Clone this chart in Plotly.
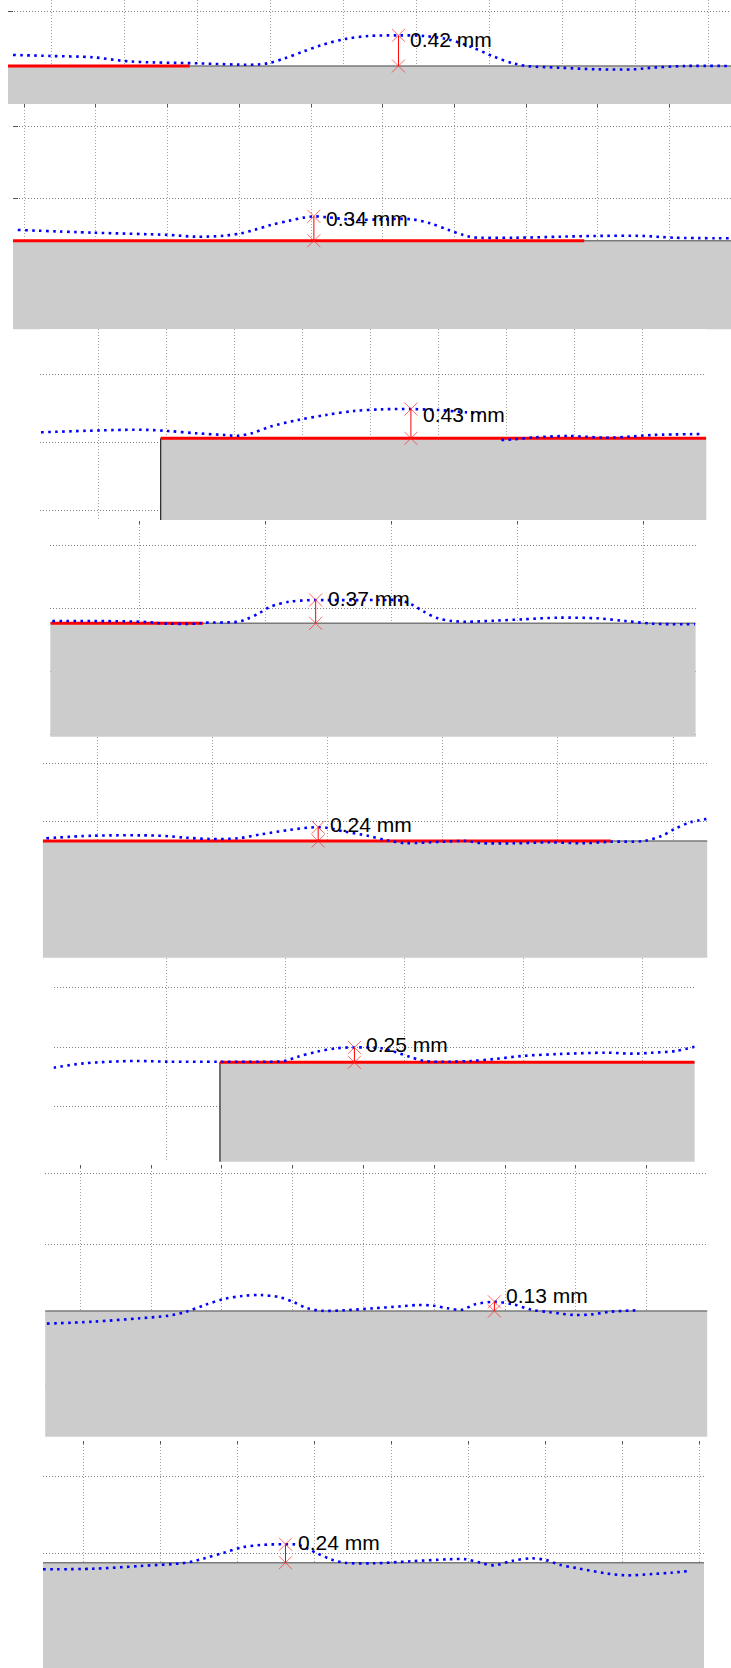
import plotly.graph_objects as go

W, H = 731, 1668

# Measured step heights (mm) and their positions along each scan (mm)
step_heights = [0.42, 0.34, 0.43, 0.37, 0.24, 0.25, 0.13, 0.24]
step_x = [4.76, 4.04, 4.59, 2.79, 3.84, 3.16, 5.85, 2.63]

# Surface profiles: position (mm) and height above the substrate (mm)
p1_x = [-0.52, 0.00, 0.58, 0.96, 1.22, 1.99, 2.75, 2.97, 3.20, 3.45, 3.71, 4.03, 4.35, 4.76, 5.11, 5.43,
        5.75, 6.07, 6.33, 6.52, 6.96, 7.48, 7.99, 8.24, 8.69, 9.32]
p1_h = [0.151, 0.137, 0.119, 0.073, 0.055, 0.037, 0.018, 0.037, 0.105, 0.196, 0.288, 0.370, 0.411, 0.42,
        0.411, 0.366, 0.264, 0.127, 0.037, 0.0, -0.023, -0.045, -0.045, -0.023, 0.0, 0.0]

p2_x = [-0.09, 0.96, 2.01, 2.40, 2.79, 3.02, 3.21, 3.44, 3.70, 3.90, 4.04, 4.22, 4.61, 5.00, 5.40, 5.66,
        5.92, 6.12, 6.25, 6.84, 7.48, 7.94, 8.65, 9.05, 9.88]
p2_h = [0.150, 0.112, 0.080, 0.056, 0.070, 0.103, 0.150, 0.220, 0.280, 0.322, 0.34, 0.327, 0.290, 0.299,
        0.299, 0.243, 0.150, 0.080, 0.048, 0.042, 0.056, 0.066, 0.066, 0.042, 0.034]

p3_x = [-0.85, 0.61, 1.02, 1.43, 1.84, 2.05, 2.25, 2.52, 2.93, 3.34, 3.75, 4.16, 4.59, 4.99, 5.40, 5.68,
        None, 5.92, 6.09, 6.43, 6.91, 7.46, 7.80, 8.15, 8.90]
p3_h = [0.088, 0.126, 0.107, 0.074, 0.049, 0.038, 0.074, 0.171, 0.269, 0.343, 0.401, 0.426, 0.43, 0.416,
        0.382, 0.368, None, -0.025, -0.015, 0.015, 0.034, 0.009, 0.024, 0.049, 0.063]

p4_x = [-1.39, 0.00, 0.45, 0.89, 1.03, 1.56, 1.70, 1.89, 2.07, 2.37, 2.67, 2.79, 2.95, 3.40, 3.84, 4.14,
        4.33, 4.51, 4.73, 4.95, 5.18, 5.62, 6.07, 6.65, 7.26, 7.70, 8.15, 8.81]
p4_h = [0.037, 0.025, -0.006, -0.006, 0.010, 0.025, 0.068, 0.159, 0.263, 0.343, 0.367, 0.37, 0.368, 0.368,
        0.37, 0.362, 0.290, 0.184, 0.079, 0.037, 0.025, 0.041, 0.063, 0.089, 0.079, 0.037, -0.006, -0.016]

p5_x = [-0.88, -0.07, 1.07, 1.55, 1.96, 2.44, 2.85, 3.33, 3.66, 3.84, 3.98, 4.31, 4.70, 5.03, 5.36, 6.01,
        6.41, 6.65, 7.22, 7.86, 8.43, 8.92, 9.49, 9.81, 10.05, 10.30, 10.58]
p5_h = [0.047, 0.092, 0.092, 0.057, 0.035, 0.047, 0.116, 0.191, 0.231, 0.24, 0.231, 0.161, 0.092, 0.012,
        -0.035, -0.012, 0.0, -0.035, -0.040, -0.023, -0.040, -0.012, 0.0, 0.092, 0.220, 0.325, 0.382]

p6_x = [-1.90, -1.38, -0.53, 0.03, 0.88, 1.59, 1.98, 2.21, 2.53, 2.85, 3.16, 3.62, 3.86, 4.09, 4.33, 4.73,
        5.12, 5.51, 5.98, 6.60, 7.39, 7.86, 8.17, 8.56, 8.88]
p6_h = [-0.091, -0.017, 0.022, 0.010, 0.010, 0.010, 0.022, 0.094, 0.178, 0.235, 0.25, 0.235, 0.168, 0.094,
        0.022, 0.010, 0.022, 0.055, 0.106, 0.139, 0.161, 0.145, 0.161, 0.190, 0.262]

p7_x = [-0.47, 0.18, 0.84, 1.24, 1.50, 1.76, 2.03, 2.29, 2.55, 2.82, 3.02, 3.21, 3.41, 3.74, 4.14, 4.53,
        4.79, 4.99, 5.19, 5.39, 5.58, 5.85, 6.11, 6.37, 6.64, 6.97, 7.23, 7.49, 7.86]
p7_h = [-0.179, -0.151, -0.103, -0.066, -0.010, 0.085, 0.169, 0.212, 0.226, 0.194, 0.123, 0.038, 0.004,
        0.010, 0.038, 0.066, 0.085, 0.075, 0.038, 0.018, 0.095, 0.13, 0.095, 0.018, -0.018, -0.056, -0.047,
        -0.010, 0.010]

p8_x = [-0.52, 0.13, 0.74, 1.34, 1.58, 1.83, 2.07, 2.31, 2.63, 2.80, 3.04, 3.22, 3.40, 3.77, 4.25, 4.74,
        4.97, 5.16, 5.34, 5.58, 5.82, 6.01, 6.19, 6.43, 6.79, 7.04, 7.40, 7.64, 7.87]
p8_h = [-0.086, -0.078, -0.043, 0.0, 0.057, 0.130, 0.200, 0.230, 0.24, 0.230, 0.122, 0.044, 0.0, -0.008,
        0.018, 0.044, 0.044, 0.0, -0.034, 0.026, 0.057, 0.035, -0.026, -0.073, -0.138, -0.164, -0.147,
        -0.130, -0.108]

profile_x = [p1_x, p2_x, p3_x, p4_x, p5_x, p6_x, p7_x, p8_x]
profile_h = [p1_h, p2_h, p3_h, p4_h, p5_h, p6_h, p7_h, p8_h]

# Where the substrate begins (mm); None means it runs under the whole scan
substrate_start = [None, None, 0.91, None, None, 0.90, None, None]
# Reference (fit) segment on the substrate surface, mm
ref_start = [-0.59, -0.16, 0.91, -1.42, -0.94, 0.90, None, None]
ref_end = [1.90, 7.81, 8.93, 1.00, 8.92, 8.88, None, None]

# Panel boxes in page pixels: left, top, right, bottom, px per mm,
# px column of x = 0, px row of the surface, px row of a horizontal grid line, x grid step (mm)
boxes = [
    (8.0, 0.0, 731.0, 104.0, 73.0, 51.0, 66.0, 11.0, 1),
    (13.0, 104.0, 731.0, 329.3, 71.7, 24.2, 240.7, 198.3, 1),
    (40.0, 329.0, 706.3, 520.0, 68.0, 98.8, 438.3, 442.3, 1),
    (50.3, 521.0, 695.6, 736.7, 63.0, 139.9, 623.3, 608.3, 2),
    (42.9, 737.0, 707.2, 957.7, 57.6, 97.0, 841.0, 821.0, 2),
    (53.6, 958.0, 694.6, 1161.7, 59.5, 166.4, 1062.3, 1047.3, 2),
    (45.2, 1165.0, 707.2, 1436.7, 70.8, 80.2, 1311.0, 1244.0, 1),
    (42.9, 1441.0, 704.0, 1668.0, 77.0, 83.0, 1562.7, 1553.3, 1),
]
top_ticks = [False, True, False, True, False, False, True, True]
left_ticks = [True, True, False, False, False, False, False, False]
label_dy = [-4, -2, -5, 1, 3, 3, 6, 2]

GRAY = "#cccccc"
BLUE = "#0000ff"
RED = "#ff0000"
FONT = "Liberation Sans, Arial, sans-serif"

fig = go.Figure()
layout = dict(
    width=W, height=H, margin=dict(l=0, r=0, t=0, b=0),
    paper_bgcolor="white", plot_bgcolor="white", showlegend=False,
)
annotations = []

for i in range(8):
    n = i + 1
    xa = "x" if n == 1 else f"x{n}"
    ya = "y" if n == 1 else f"y{n}"
    xk = "xaxis" if n == 1 else f"xaxis{n}"
    yk = "yaxis" if n == 1 else f"yaxis{n}"
    left, top, right, bottom, s, x0px, y0px, gy, xstep = boxes[i]

    xr = [(left - x0px) / s, (right - x0px) / s]
    yr = [-(bottom - y0px) / s, (y0px - top) / s]

    layout[xk] = dict(
        domain=[left / W, right / W], range=xr, anchor=ya,
        showgrid=True, gridcolor="#a0a0a0", griddash="1px,2px", gridwidth=1,
        tick0=0, dtick=xstep, zeroline=False, showline=False, showticklabels=False,
        side="top", ticks="inside" if top_ticks[i] else "", ticklen=3,
        tickcolor="#555555", tickwidth=1, fixedrange=True, layer="below traces",
    )
    layout[yk] = dict(
        domain=[1 - bottom / H, 1 - top / H], range=yr, anchor=xa,
        showgrid=True, gridcolor="#808080", griddash="1px,2px", gridwidth=1,
        tick0=(y0px - gy) / s, dtick=1, zeroline=False, showline=False,
        showticklabels=False, ticks="inside" if left_ticks[i] else "", ticklen=5,
        tickcolor="#555555", tickwidth=1, fixedrange=True, layer="below traces",
    )

    # substrate block
    sx = substrate_start[i] if substrate_start[i] is not None else -99
    fig.add_trace(go.Scatter(
        x=[sx, 99, 99, sx, sx], y=[0, 0, -9, -9, 0], xaxis=xa, yaxis=ya,
        mode="lines", fill="toself", fillcolor=GRAY, line=dict(width=0),
        hoverinfo="skip"))
    fig.add_trace(go.Scatter(
        x=[sx, 99], y=[0, 0], xaxis=xa, yaxis=ya, mode="lines",
        line=dict(color="#7a7a7a", width=1.6), hoverinfo="skip"))
    if substrate_start[i] is not None:
        fig.add_trace(go.Scatter(
            x=[sx, sx], y=[0, -9], xaxis=xa, yaxis=ya, mode="lines",
            line=dict(color="#222222", width=1.2), hoverinfo="skip"))

    # reference segment
    if ref_start[i] is not None:
        fig.add_trace(go.Scatter(
            x=[ref_start[i], ref_end[i]], y=[0, 0], xaxis=xa, yaxis=ya, mode="lines",
            line=dict(color=RED, width=3), hoverinfo="skip"))

    # measured profile
    fig.add_trace(go.Scatter(
        x=profile_x[i], y=profile_h[i], xaxis=xa, yaxis=ya, mode="lines",
        line=dict(color=BLUE, width=2.6, dash="2.6px,4.4px", shape="spline", smoothing=0.9),
        connectgaps=False, hoverinfo="skip"))

    # step height measurement
    xp, hp = step_x[i], step_heights[i]
    fig.add_trace(go.Scatter(
        x=[xp, xp], y=[0, hp], xaxis=xa, yaxis=ya, mode="lines",
        line=dict(color=RED, width=1), hoverinfo="skip"))
    fig.add_trace(go.Scatter(
        x=[xp, xp], y=[hp, 0], xaxis=xa, yaxis=ya, mode="markers",
        marker=dict(symbol="x-thin", size=13, color="rgba(255,40,40,0.7)",
                    line=dict(color="rgba(255,40,40,0.7)", width=1)),
        hoverinfo="skip", cliponaxis=False))
    annotations.append(dict(
        x=xp, y=hp, xref=xa, yref=ya, text=f"{hp:.2f} mm", showarrow=False,
        xanchor="left", yanchor="middle", xshift=10, yshift=label_dy[i],
        font=dict(family=FONT, size=21, color="black")))

layout["annotations"] = annotations
fig.update_layout(**layout)
fig.write_html("out.html")
